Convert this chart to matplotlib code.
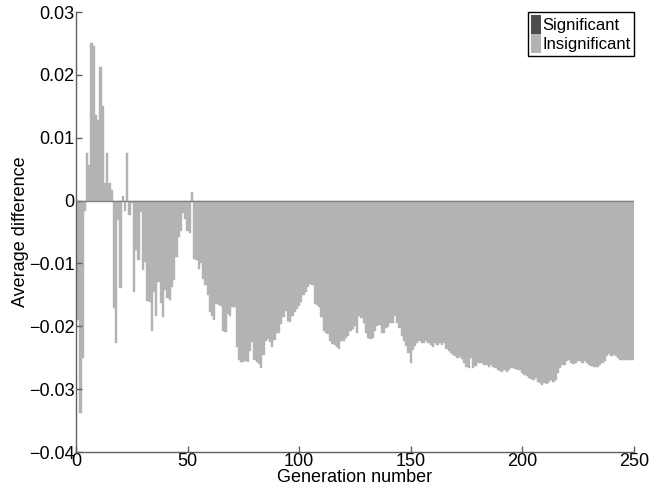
import numpy as np
import matplotlib
matplotlib.use('Agg')
import matplotlib.pyplot as plt
from matplotlib.patches import Patch
from matplotlib.ticker import FuncFormatter

plt.rcParams['font.family'] = ['Liberation Sans', 'DejaVu Sans']

# average difference per generation (1..250)
diff_1_52 = [
    -0.0190, -0.0338, -0.0250, -0.0017, 0.0075, 0.0057, 0.0251, 0.0246,
    0.0136, 0.0128, 0.0212, 0.0150, 0.0028, 0.0075, 0.0028, 0.0017,
    -0.0171, -0.0227, -0.0031, -0.0139, 0.0007, -0.0017, 0.0076, -0.0023,
    -0.0004, -0.0145, -0.0078, -0.0095, -0.0018, -0.0110, -0.0097, -0.0160,
    -0.0162, -0.0208, -0.0145, -0.0183, -0.0130, -0.0163, -0.0185, -0.0143,
    -0.0155, -0.0158, -0.0137, -0.0127, -0.0089, -0.0058, -0.0049, -0.0020,
    -0.0030, -0.0049, -0.0052, 0.0013,
]
diff_53_118 = [
    -0.0093, -0.0095, -0.0109, -0.0099, -0.0125, -0.0135, -0.0150, -0.0178,
    -0.0183, -0.0190, -0.0164, -0.0166, -0.0168, -0.0207, -0.0209, -0.0180,
    -0.0183, -0.0170, -0.0170, -0.0233, -0.0254, -0.0257, -0.0257, -0.0256,
    -0.0257, -0.0240, -0.0225, -0.0254, -0.0257, -0.0260, -0.0267, -0.0246,
    -0.0223, -0.0221, -0.0225, -0.0233, -0.0222, -0.0211, -0.0210, -0.0196,
    -0.0185, -0.0175, -0.0191, -0.0193, -0.0183, -0.0178, -0.0172, -0.0167,
    -0.0162, -0.0150, -0.0145, -0.0137, -0.0132, -0.0134, -0.0164, -0.0166,
    -0.0170, -0.0185, -0.0207, -0.0210, -0.0213, -0.0223, -0.0228, -0.0230,
    -0.0233, -0.0236,
]
diff_119_176 = [
    -0.0224, -0.0223, -0.0219, -0.0216, -0.0208, -0.0205, -0.0199, -0.0210,
    -0.0183, -0.0187, -0.0195, -0.0210, -0.0219, -0.0220, -0.0219, -0.0208,
    -0.0199, -0.0198, -0.0210, -0.0211, -0.0203, -0.0201, -0.0195, -0.0194,
    -0.0183, -0.0194, -0.0203, -0.0216, -0.0224, -0.0232, -0.0242, -0.0258,
    -0.0237, -0.0232, -0.0227, -0.0224, -0.0226, -0.0226, -0.0223, -0.0227,
    -0.0229, -0.0233, -0.0227, -0.0229, -0.0227, -0.0229, -0.0227, -0.0236,
    -0.0240, -0.0242, -0.0245, -0.0248, -0.0251, -0.0249, -0.0252, -0.0259,
    -0.0264, -0.0267,
]
diff_177_250 = [
    -0.0251, -0.0267, -0.0263, -0.0258, -0.0258, -0.0259, -0.0261, -0.0261,
    -0.0264, -0.0261, -0.0265, -0.0267, -0.0269, -0.0271, -0.0272, -0.0269,
    -0.0273, -0.0269, -0.0267, -0.0266, -0.0268, -0.0269, -0.0270, -0.0275,
    -0.0278, -0.0279, -0.0282, -0.0284, -0.0285, -0.0282, -0.0288, -0.0290,
    -0.0293, -0.0291, -0.0292, -0.0288, -0.0285, -0.0288, -0.0285, -0.0275,
    -0.0267, -0.0262, -0.0261, -0.0256, -0.0254, -0.0259, -0.0260, -0.0258,
    -0.0256, -0.0256, -0.0259, -0.0256, -0.0259, -0.0261, -0.0263, -0.0264,
    -0.0265, -0.0264, -0.0261, -0.0259, -0.0256, -0.0248, -0.0244, -0.0247,
    -0.0246, -0.0248, -0.0250, -0.0253, -0.0253, -0.0254, -0.0254, -0.0254,
    -0.0254, -0.0254,
]
avg_diff = np.array(diff_1_52 + diff_53_118 + diff_119_176 + diff_177_250)
generations = np.arange(1, len(avg_diff) + 1)

x_ticks = [0, 50, 100, 150, 200, 250]
y_ticks = [0.03, 0.02, 0.01, 0, -0.01, -0.02, -0.03, -0.04]
legend_labels = ['Significant', 'Insignificant']

light = '#b3b3b3'
dark = '#4d4d4d'
axis_col = '#606060'

fig = plt.figure(figsize=(6.63, 4.92), dpi=100)
ax = fig.add_axes([0.1146, 0.0813, 0.8414, 0.8943])

ax.bar(generations, avg_diff, width=1.0, color=light, edgecolor=light,
       linewidth=0.3)
ax.axhline(0, color='#808080', linewidth=1.0, zorder=3)

ax.set_xlim(0, 250)
ax.set_ylim(-0.04, 0.03)
ax.set_xticks(x_ticks)
ax.set_yticks(y_ticks)
ax.yaxis.set_major_formatter(
    FuncFormatter(lambda v, p: f'{v:g}'.replace('-', '\u2212')))

for side in ['top', 'right']:
    ax.spines[side].set_visible(False)
for side in ['left', 'bottom']:
    ax.spines[side].set_color(axis_col)
    ax.spines[side].set_linewidth(1.0)
ax.tick_params(direction='in', length=4, width=1.0, color=axis_col,
               labelsize=13, pad=1)

ax.set_xlabel('Generation number', fontsize=13, labelpad=-1)
ax.set_ylabel('Average difference', fontsize=13, labelpad=0)

handles = [Patch(facecolor=dark, edgecolor='none'),
           Patch(facecolor=light, edgecolor='none')]
leg = ax.legend(handles, legend_labels, loc='upper right', fontsize=12,
                handlelength=0.55, handleheight=1.3, handletextpad=0.1,
                borderpad=0.2, labelspacing=0.05, borderaxespad=0.0,
                fancybox=False, framealpha=1.0)
leg.get_frame().set_edgecolor('black')
leg.get_frame().set_linewidth(1.0)

fig.savefig('out.png', dpi=100)
